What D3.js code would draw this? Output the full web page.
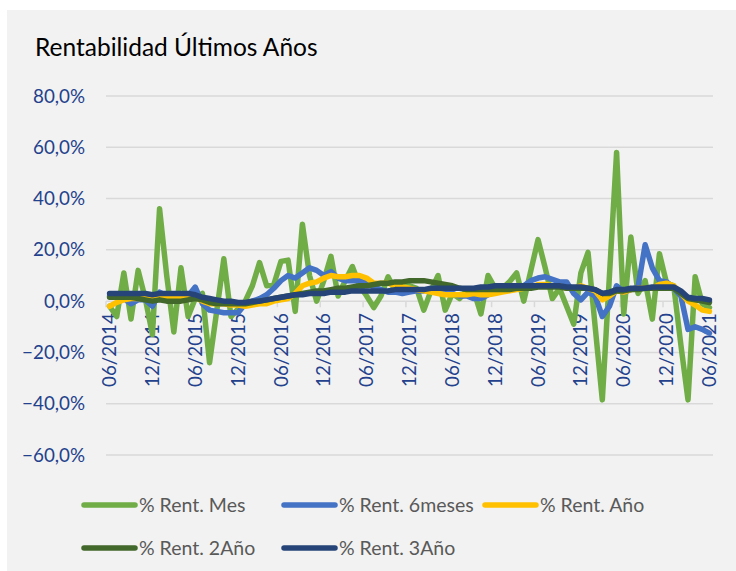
<!DOCTYPE html>
<html>
<head>
<meta charset="utf-8">
<script src="https://cdn.jsdelivr.net/npm/d3@7"></script>
<style>
  body { margin: 0; background: #fff; }
  svg { display: block; font-family: Lato, "Open Sans", sans-serif; }
</style>
</head>
<body>
<div id="chart"></div>
<script>
// Monthly categories 06/2014 .. 06/2021
const months = d3.timeMonths(new Date(2014, 5, 1), new Date(2021, 6, 1)).map(d3.timeFormat("%m/%Y"));
const tickLabels = ["06/2014", "12/2014", "06/2015", "12/2015", "06/2016", "12/2016", "06/2017", "12/2017",
    "06/2018", "12/2018", "06/2019", "12/2019", "06/2020", "12/2020", "06/2021"];
const yTicks = [-60, -40, -20, 0, 20, 40, 60, 80];

const rentMes = [-2, -6, 11, -7, 12, 1, -13, 36, 10, -12, 13, -6, 1, 3, -24, -4, 16.5, -6, -3, 0,
    6, 15, 6, 6.5, 15.5, 16, -4, 30, 10, 0, 8, 17.5, 2, 8, 13.5, 6, 2, -2.5, 2, 9.5,
    4, 6, 6, 5, -3.5, 4, 10, -3.5, 3, 1, 4, 4, -5, 10, 5, 5, 7.5, 11, 0, 12,
    24, 13, 1, 5, -2, -9, 11, 19, -10, -38.5, 10, 58, -5, 25, 3, 8, -7, 18.5, 7, 6,
    -17, -38.5, 9.5, -1, -2.5];
const rent6m = [2, 1.5, 1, -1, 0.5, 0.5, -2, 3.5, 2, 1.5, 1.5, 2, 5.5, -1, -3.5, -4, -4.5, -4.5, -4.5, -1,
    0, 1, 2.5, 5, 8, 10, 9, 11, 13, 12, 10, 11.5, 9, 8, 8, 8, 7, 5.5, 4.5, 3.5,
    3.5, 3, 3.5, 4, 4, 4.5, 5.5, 4.5, 3, 2, 2, 1, 1, 2.5, 3.5, 5, 5, 6, 6, 8,
    9, 9.5, 8.5, 7.5, 7.5, 3, 0.5, 3.5, 2, -6, -2, 6, 3.5, 4.5, 5.5, 22, 13, 8, 7.5, 5,
    2, -11, -10, -11, -12.5];
const rentAno = [-2, -0.5, 0.5, 1, 1, 1, 0.5, 1.5, 1, 1, 1, 1.5, 1.5, 0, -1, -1, -1, -1.5, -1.5, -2,
    -1.5, -1, -1, 0, 0.5, 1, 3, 6, 7, 7.5, 9, 10, 9.5, 9.5, 10, 10, 9, 7, 7, 7,
    6, 5.5, 5, 4.5, 4, 3.5, 3, 2.5, 2.5, 2.5, 2.5, 3, 2.5, 2.5, 3, 3.5, 4, 4.5, 5, 5.5,
    6.5, 6.5, 6, 6, 5, 5, 6, 5, 4, 0.5, 2, 4, 3.5, 4.5, 5, 5, 5, 6.5, 7, 6,
    3, 0, -1.5, -3.5, -4];
const rent2Ano = [1.5, 1.5, 1.5, 1.5, 1, 0.5, 0, 0.5, 0, 0, 0, 0.5, 1, 0.5, -0.5, -1, -1, -1, -1, -1,
    -0.5, 0, 0.5, 1, 1.5, 2, 2.5, 3, 3.5, 4, 4, 4.5, 5, 5, 5.5, 6, 6, 6.5, 7, 7,
    7.5, 7.5, 8, 8, 8, 7.5, 7, 6.5, 6, 5, 4.5, 4.5, 4.5, 4.5, 4.5, 4.5, 4.5, 5, 5, 5,
    5.5, 5.5, 5.5, 5.5, 5, 5, 5, 5, 4.5, 3, 3, 4, 4, 4.5, 4.5, 5, 5, 5, 5, 5,
    3, 1, 0.5, 0, -0.5];
const rent3Ano = [3, 3, 3, 3, 3, 3, 2.5, 3, 3, 3, 3, 3, 2.5, 1.5, 1, 0.5, 0, 0, -0.5, -0.5,
    0, 0, 0.5, 1, 1.5, 2, 2.5, 2.5, 3, 3, 3, 3.5, 3.5, 3.5, 4, 4, 4, 4, 4, 4,
    4.5, 4.5, 4.5, 4.5, 4.5, 5, 5, 5, 5, 5, 5, 5, 5.5, 5.5, 6, 6, 6, 6, 6, 6,
    6, 6, 6, 6, 5.5, 5.5, 5.5, 5, 4.5, 3, 3.5, 4.5, 4.5, 5, 5, 5, 5.5, 5.5, 5.5, 5.5,
    4, 1.5, 1, 1, 0.5];

const series = [
    { name: "% Rent. Mes", values: rentMes, color: "#70ad47" },
    { name: "% Rent. 6meses", values: rent6m, color: "#4472c4" },
    { name: "% Rent. Año", values: rentAno, color: "#ffc000" },
    { name: "% Rent. 2Año", values: rent2Ano, color: "#43682b" },
    { name: "% Rent. 3Año", values: rent3Ano, color: "#264478" }
];

const width = 736, height = 571;
const svg = d3.select("#chart").append("svg")
    .attr("width", width)
    .attr("height", height);

// chart area background
svg.append("rect")
    .attr("x", 7).attr("y", 10)
    .attr("width", width - 7).attr("height", height - 10)
    .attr("fill", "#f2f2f2");

svg.append("text")
    .attr("x", 35).attr("y", 56)
    .style("font-size", "24.5px")
    .style("fill", "#000")
    .text("Rentabilidad Últimos Años");

const plotLeft = 106, plotRight = 713;
const x = d3.scalePoint().domain(months).range([plotLeft, plotRight]).padding(0.5);
const y = d3.scaleLinear().domain([-60, 80]).range([455, 96]);

// gridlines
svg.append("g")
    .selectAll("line")
    .data(yTicks)
    .join("line")
    .attr("x1", plotLeft).attr("x2", plotRight)
    .attr("y1", d => y(d)).attr("y2", d => y(d))
    .attr("stroke", "#d9d9d9")
    .attr("stroke-width", 1.5);

// y labels
svg.append("g")
    .selectAll("text")
    .data(yTicks)
    .join("text")
    .attr("x", 85)
    .attr("y", d => y(d))
    .attr("dy", "0.35em")
    .attr("text-anchor", "end")
    .style("font-size", "18.8px")
    .style("fill", "#23418c")
    .text(d => d3.format(".1f")(d).replace(".", ",") + "%");

// category tick marks between months, every 6
const step = x.step();
svg.append("g")
    .selectAll("line")
    .data(d3.range(0, months.length + 1, 6))
    .join("line")
    .attr("x1", d => plotLeft + d * step).attr("x2", d => plotLeft + d * step)
    .attr("y1", y(0)).attr("y2", y(0) + 6)
    .attr("stroke", "#d9d9d9")
    .attr("stroke-width", 1.5);

// x labels, rotated
svg.append("g")
    .selectAll("text")
    .data(tickLabels)
    .join("text")
    .attr("transform", d => `translate(${x(d)}, ${y(0) + 12}) rotate(-90)`)
    .attr("dy", "0.35em")
    .attr("text-anchor", "end")
    .style("font-size", "18.8px")
    .style("fill", "#23418c")
    .text(d => d);

const line = d3.line()
    .x((d, i) => x(months[i]))
    .y(d => y(d));

svg.append("g")
    .selectAll("path")
    .data(series)
    .join("path")
    .attr("d", d => line(d.values))
    .attr("fill", "none")
    .attr("stroke", d => d.color)
    .attr("stroke-width", 5.5)
    .attr("stroke-linejoin", "round")
    .attr("stroke-linecap", "round");

// legend
const legendPos = [[82, 505], [282, 505], [483, 505], [82, 548], [282, 548]];
const legend = svg.append("g")
    .selectAll("g")
    .data(series)
    .join("g")
    .attr("transform", (d, i) => `translate(${legendPos[i][0]}, ${legendPos[i][1]})`);

legend.append("line")
    .attr("x1", 2).attr("x2", 53)
    .attr("stroke", d => d.color)
    .attr("stroke-width", 5.5)
    .attr("stroke-linecap", "round");

legend.append("text")
    .attr("x", 57)
    .attr("dy", "0.35em")
    .style("font-size", "19.5px")
    .style("fill", "#595959")
    .text(d => d.name);
</script>
</body>
</html>
